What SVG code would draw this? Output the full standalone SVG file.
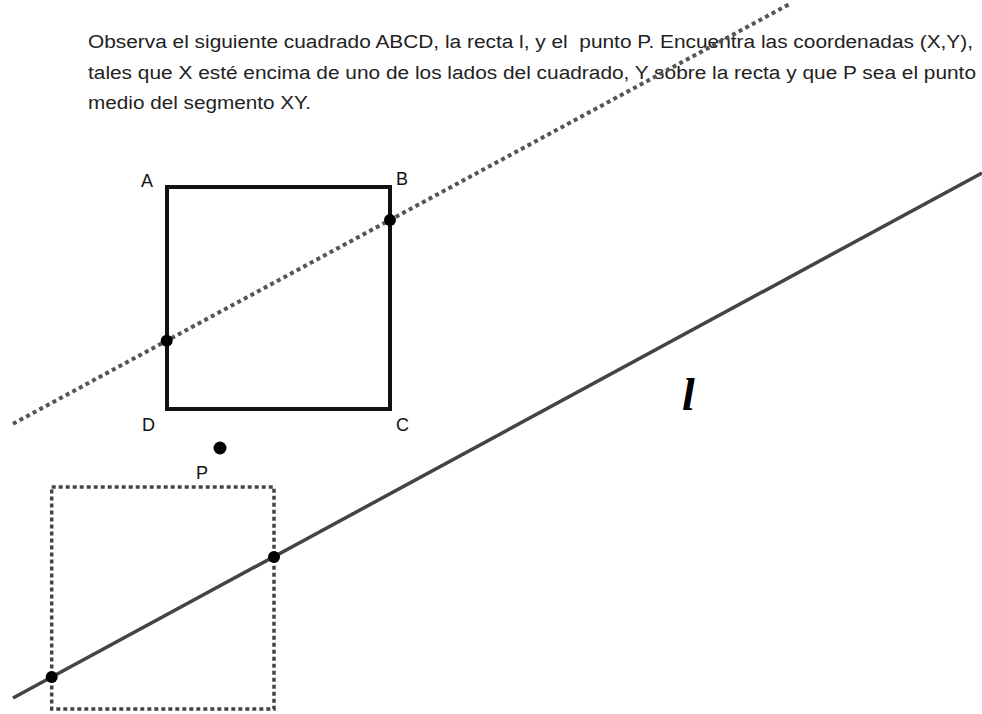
<svg xmlns="http://www.w3.org/2000/svg" width="982" height="714" viewBox="0 0 982 714">
<style>
.t{font-family:"Liberation Sans",Arial,sans-serif;font-size:18px;fill:#222;white-space:pre}
.lab{font-family:"Liberation Sans",Arial,sans-serif;font-size:18px;fill:#111}
.pt{fill:#000}
.dot{fill:none;stroke:#555;stroke-width:4;stroke-dasharray:4 3.5}
</style>
<rect width="982" height="714" fill="#fff"/>
<g id="enunciado">
<text class="t" x="88" y="48" textLength="885" lengthAdjust="spacingAndGlyphs" xml:space="preserve">Observa el siguiente cuadrado ABCD, la recta l, y el  punto P. Encuentra las coordenadas (X,Y),</text>
<text class="t" x="88" y="78.5" textLength="888" lengthAdjust="spacingAndGlyphs">tales que X esté encima de uno de los lados del cuadrado, Y sobre la recta y que P sea el punto</text>
<text class="t" x="88" y="109" textLength="223" lengthAdjust="spacingAndGlyphs">medio del segmento XY.</text>
</g>
<g id="recta-punteada">
<line class="dot" x1="13" y1="423.8" x2="790" y2="3.8"/>
</g>
<g id="recta-l">
<line x1="13" y1="698" x2="982" y2="173" stroke="#444" stroke-width="3.5"/>
<text x="682" y="410" font-family="'Liberation Serif','Times New Roman',serif" font-style="italic" font-weight="bold" font-size="46" fill="#000">l</text>
</g>
<g id="cuadrado-ABCD">
<rect x="167" y="187" width="223" height="222" fill="none" stroke="#111" stroke-width="4"/>
<text class="lab" x="141" y="187">A</text>
<text class="lab" x="396" y="185">B</text>
<text class="lab" x="396" y="431">C</text>
<text class="lab" x="142" y="431">D</text>
</g>
<g id="cuadrado-punteado">
<rect x="51.7" y="487" width="222.3" height="222" fill="none" stroke="#444" stroke-width="3.5" stroke-dasharray="4 3"/>
</g>
<g id="punto-P">
<circle class="pt" cx="220" cy="448" r="6.5"/>
<text class="lab" x="196" y="479">P</text>
</g>
<g id="intersecciones">
<circle class="pt" cx="390" cy="220" r="6"/>
<circle class="pt" cx="166.7" cy="340.7" r="6"/>
<circle class="pt" cx="274" cy="557" r="6"/>
<circle class="pt" cx="51.7" cy="677" r="6"/>
</g>
</svg>
